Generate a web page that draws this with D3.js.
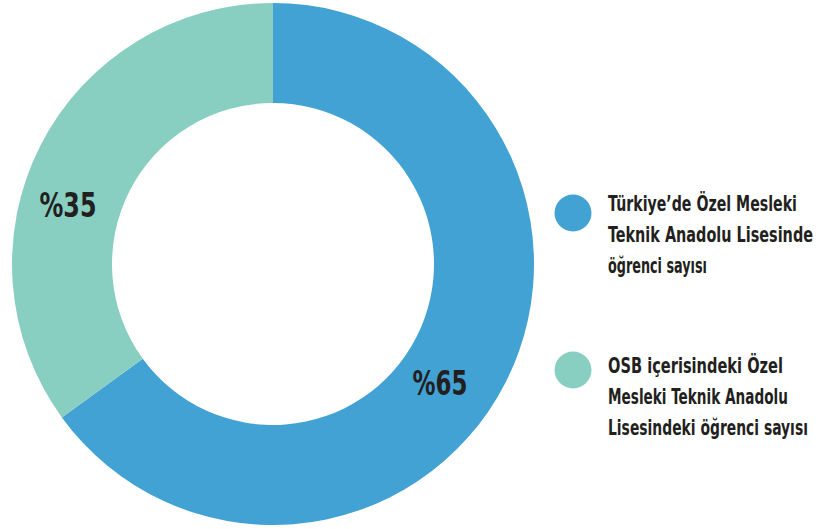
<!DOCTYPE html>
<html><head><meta charset="utf-8">
<script src="https://cdn.jsdelivr.net/npm/d3@7"></script>
<style>
html,body{margin:0;padding:0;background:#fff;}
text{font-family:"Liberation Sans Narrow","DejaVu Sans Condensed","Roboto Condensed","Liberation Sans",sans-serif;font-weight:bold;fill:#231f20;}
</style></head>
<body>
<svg id="c" width="829" height="529"></svg>
<script>
const categories = ["Türkiye’de Özel Mesleki Teknik Anadolu Lisesinde öğrenci sayısı",
                    "OSB içerisindeki Özel Mesleki Teknik Anadolu Lisesindeki öğrenci sayısı"];
const values = [65, 35];
const valueLabels = ["%65", "%35"];
const legendLines = [
  ["Türkiye’de Özel Mesleki", "Teknik Anadolu Lisesinde", "öğrenci sayısı"],
  ["OSB içerisindeki Özel", "Mesleki Teknik Anadolu", "Lisesindeki öğrenci sayısı"]
];
const colors = ["#42a2d4", "#88cfc1"];

const svg = d3.select("#c");
const cx = 273, cy = 264, R = 261, r0 = 161;
const pie = d3.pie().sort(null).value(d => d)(values);
const arc = d3.arc().innerRadius(r0).outerRadius(R);
const g = svg.append("g").attr("transform", `translate(${cx},${cy})`);
g.selectAll("path").data(pie).join("path").attr("d", arc).attr("fill", (d,i) => colors[i]);

// helper: place text with left x, baseline y, fitted to a width by horizontal scaling
function fitText(parent, str, x, y, size, width, anchor) {
  const t = parent.append("text").attr("font-size", size).text(str);
  const len = t.node().getComputedTextLength();
  const s = width / len;
  const x0 = anchor === "middle" ? x - width / 2 : x;
  t.attr("transform", `translate(${x0},${y}) scale(${s},1)`);
  return t;
}

// value labels (centre x, baseline y)
const labelPos = [[440, 395], [68, 217]];
const labelW = [55, 57];
pie.forEach((d, i) => fitText(svg, valueLabels[i], labelPos[i][0], labelPos[i][1], 33, labelW[i], "middle"));

// legend
const legY = [213, 370];
const textY = [211, 373];
const lineW = [[189, 205, 99], [175, 180, 200]];
const lg = svg.append("g");
categories.forEach((c, i) => {
  lg.append("circle").attr("cx", 573).attr("cy", legY[i]).attr("r", 18.5).attr("fill", colors[i]);
  legendLines[i].forEach((t, j) => fitText(lg, t, 608, textY[i] + j * 31, 22, lineW[i][j], "start"));
});
</script>
</body></html>
